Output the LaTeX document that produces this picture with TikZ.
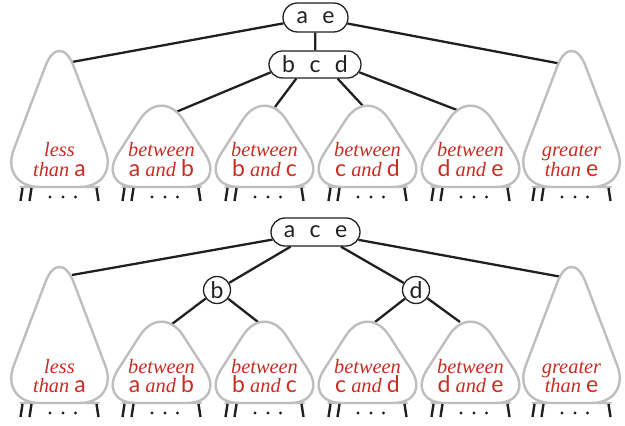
\documentclass[tikz,border=0pt]{standalone}
\usepackage{fontspec}
\setmainfont{Liberation Serif}
\setsansfont{Lato}
\usetikzlibrary{shapes.misc}
\definecolor{labelred}{RGB}{200,45,35}
\definecolor{treegray}{RGB}{190,190,190}
\definecolor{ink}{RGB}{35,31,32}
\newcommand{\skey}[1]{{\fontsize{11.5}{12}\sffamily\upshape #1}}
\newcommand{\kgap}{\hspace{7.2pt}}
% #1 name, #2 centre x, #3 base y, #4 height, #5 half width, #6 #7 label lines
\newcommand{\subtree}[7]{%
  \draw[tri] (#2,#3) -- (#2-#5,#3) -- (#2,#3-#4) -- (#2+#5,#3) -- cycle;
  \foreach \dx in {-38,-29} \draw[leg] (#2+\dx+1,#3+1) -- (#2+\dx-1,#3+14);
  \draw[leg] (#2+37,#3+1) -- (#2+39,#3+14);
  \foreach \dx in {-9.5,3.5,16} \fill[ink] (#2+\dx,#3+10) circle (0.85pt);
  \node[lbl] (#1a) at (#2,#3-30) {#6};
  \node[lbl] (#1b) at (#2,#3-10) {#7};
}
\tikzset{
  tri/.style={draw=treegray, line width=1.2pt, fill=white, rounded corners=20pt},
  leg/.style={draw=ink, line width=1.2pt},
  conn/.style={draw=ink, line width=1.15pt},
  lbl/.style={text=labelred, anchor=base, inner sep=0pt, font=\fontsize{10.2}{12}\itshape},
  keybox/.style={rounded rectangle, draw=ink, fill=white, line width=0.65pt, inner sep=0pt,
    text=ink, font=\fontsize{11.5}{12}\sffamily},
  keycirc/.style={circle, draw=ink, fill=white, line width=0.65pt, inner sep=0pt,
    minimum size=13.5pt, text=ink, font=\fontsize{11.5}{12}\sffamily},
}
\begin{document}
\begin{tikzpicture}[x=0.5pt,y=-0.5pt]
  \useasboundingbox (0,0) rectangle (625,426);
  % 2-3-4 tree: 4-node
  \node[keybox, minimum width=32.5pt, minimum height=14.5pt] (ae) at (315.5,17.5) {a\kgap e};
  \node[keybox, minimum width=46pt, minimum height=13.5pt] (bcd) at (315,64.5) {b\kgap c\kgap d};
  \coordinate (tlin) at (72,62);   \coordinate (trin) at (562,64);
  \coordinate (ts1in) at (176,112); \coordinate (ts2in) at (275,107);
  \coordinate (ts3in) at (363,106); \coordinate (ts4in) at (457,110);
  \draw[conn] (ae) -- (bcd);
  \draw[conn] (ae) -- (tlin);
  \draw[conn] (ae) -- (trin);
  \draw[conn] (bcd.190) -- (ts1in);
  \draw[conn] (bcd.217) -- (ts2in);
  \draw[conn] (bcd.328) -- (ts3in);
  \draw[conn] (bcd.350) -- (ts4in);
  \subtree{tl}{59.5}{187}{158}{60}{less}{than \skey{a}}
  \subtree{ts1}{161.5}{187}{101}{65}{between}{\skey{a} and \skey{b}}
  \subtree{ts2}{264.5}{187}{101}{65}{between}{\skey{b} and \skey{c}}
  \subtree{ts3}{367.5}{187}{101}{65}{between}{\skey{c} and \skey{d}}
  \subtree{ts4}{470.5}{187}{101}{65}{between}{\skey{d} and \skey{e}}
  \subtree{tr}{571.5}{187}{158}{60}{greater}{than \skey{e}}
  % split into 3-node with 2-node children
  \node[keybox, minimum width=44.5pt, minimum height=14pt] (ace) at (315.5,232) {a\kgap c\kgap e};
  \node[keycirc] (b) at (217,290) {b};
  \node[keycirc] (d) at (416,290) {d};
  \coordinate (blin) at (72,275);   \coordinate (brin) at (562,277);
  \coordinate (bs1in) at (172,324); \coordinate (bs2in) at (258,322);
  \coordinate (bs3in) at (375,322); \coordinate (bs4in) at (460,322);
  \draw[conn] (ace) -- (blin);
  \draw[conn] (ace) -- (brin);
  \draw[conn] (ace) -- (b);
  \draw[conn] (ace) -- (d);
  \draw[conn] (b) -- (bs1in);
  \draw[conn] (b) -- (bs2in);
  \draw[conn] (d) -- (bs3in);
  \draw[conn] (d) -- (bs4in);
  \subtree{bl}{59.5}{403}{158}{60}{less}{than \skey{a}}
  \subtree{bs1}{161.5}{403}{101}{65}{between}{\skey{a} and \skey{b}}
  \subtree{bs2}{264.5}{403}{101}{65}{between}{\skey{b} and \skey{c}}
  \subtree{bs3}{367.5}{403}{101}{65}{between}{\skey{c} and \skey{d}}
  \subtree{bs4}{470.5}{403}{101}{65}{between}{\skey{d} and \skey{e}}
  \subtree{br}{571.5}{403}{158}{60}{greater}{than \skey{e}}
\end{tikzpicture}
\end{document}
